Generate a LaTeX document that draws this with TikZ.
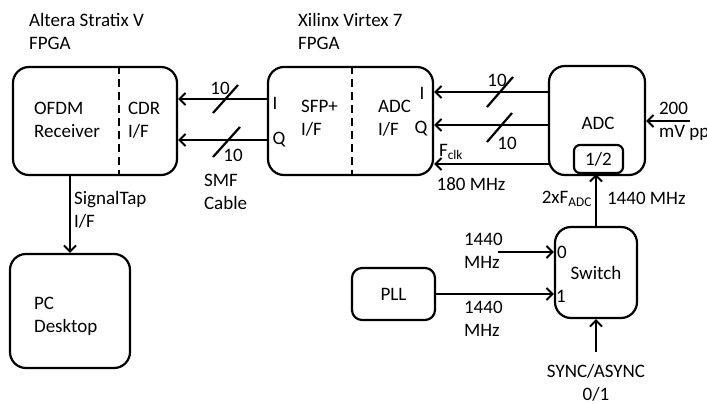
\documentclass[tikz,border=0pt]{standalone}
\usepackage{fontspec}
\setmainfont{Carlito}
\usetikzlibrary{arrows.meta,positioning,calc}

\begin{document}
\begin{tikzpicture}[x=1pt, y=-1pt, line width=2.2pt, line join=round,
  every node/.style={inner sep=0, font=\fontsize{19}{23}\selectfont},
  blk/.style={draw, rounded corners=16pt},
  txt/.style={align=left, anchor=west},
  arr/.style={line width=2pt, -{Straight Barb[length=6pt,width=12pt]}},
  sep/.style={dashed, dash pattern=on 8pt off 5pt}]
\useasboundingbox (0,0) rectangle (707,404);
% boxes
\node[blk, minimum width=164, minimum height=108] (ofdm) at (95,121) {};
\node[blk, minimum width=165, minimum height=108] (sfp) at (350.5,121) {};
\node[blk, minimum width=96, minimum height=109] (adc) at (597,120.5) {};
\node[blk, rounded corners=6pt, minimum width=49, minimum height=28] (half) at (598.5,159) {1/2};
\node[blk, minimum width=82, minimum height=91] (sw) at (596,272.5) {Switch};
\node[blk, rounded corners=10pt, minimum width=83, minimum height=52] (pll) at (393.5,294) {PLL};
\node[blk, minimum width=120, minimum height=114] (pc) at (70,311) {};
\draw[sep] ($(ofdm.north)+(24,0)$) -- ($(ofdm.south)+(24,0)$);
\draw[sep] ($(sfp.north)+(1.5,0)$) -- ($(sfp.south)+(1.5,0)$);
% texts
\node[txt] (altera) at (28,31.5) {Altera Stratix V\\FPGA};
\node[txt] (xilinx) at (297,31.5) {Xilinx Virtex 7\\FPGA};
\node[txt] (rx) at (33,120) {OFDM\\Receiver};
\node[txt] (cdr) at (127,120) {CDR\\I/F};
\node[txt] (sfptxt) at (300,118) {SFP+\\I/F};
\node[txt] (adcif) at (377,118) {ADC\\I/F};
\node (adctxt) at (598,123) {ADC};
\node (pctxt) [txt] at (33,316) {PC\\Desktop};
% links
\coordinate (sI) at (268,99); \coordinate (sQ) at (268,140);
\draw[arr] (sI) -- (ofdm.east |- sI); \draw[arr] (sQ) -- (ofdm.east |- sQ);
\node (lI) at (275,103) {I}; \node (lQ) at (279,140) {Q};
\draw (213,113) -- (238,85); \draw (213,157) -- (240,127);
\node (n1) at (220,88) {10}; \node (n2) at (233,155) {10};
\node[txt] (smf) at (203,191.5) {SMF\\Cable};
\coordinate (aI) at (549,92); \coordinate (aQ) at (549,125); \coordinate (aC) at (549,164);
\draw[arr] (aI) -- (sfp.east |- aI); \draw[arr] (aQ) -- (sfp.east |- aQ); \draw[arr] (aC) -- (sfp.east |- aC);
\node (rI) at (422,93) {I}; \node (rQ) at (421,129) {Q};
\node (fclk) at (451,152) {F\textsubscript{clk}}; \node (f180) at (471,184) {180 MHz};
\draw (487,107) -- (513,77); \draw (487,142) -- (512,113);
\node (n3) at (497,80) {10}; \node (n4) at (507,143) {10};
\coordinate (vin) at (690,121);
\draw[arr] (vin) -- (adc.east |- vin);
\node[txt] (vpp) at (658,121) {200\\mV pp};
\draw[arr] (ofdm.south -| pc.north) -- (pc.north);
\node[txt] (stap) at (73,210) {SignalTap\\I/F};
\draw[arr] (sw.north) -- (sw.north |- half.south);
\node[anchor=east] (f2) at (593,199) {2xF\textsubscript{ADC}};
\node[txt] (f1440) at (606,198) {1440 MHz};
\coordinate (in0) at (498,252);
\draw[arr] (in0) -- (sw.west |- in0);
\node[txt] (m0) at (463,251) {1440\\MHz};
\draw[arr] (pll.east) -- (sw.west |- pll.east);
\node[txt] (m1) at (463,319) {1440\\MHz};
\node (p0) at (562,252) {0}; \node (p1) at (561,296) {1};
\coordinate (sync) at (596,352);
\draw[arr] (sync) -- (sync |- sw.south);
\node[align=center] (synctxt) at (596,383) {SYNC/ASYNC\\0/1};
\end{tikzpicture}
\end{document}
